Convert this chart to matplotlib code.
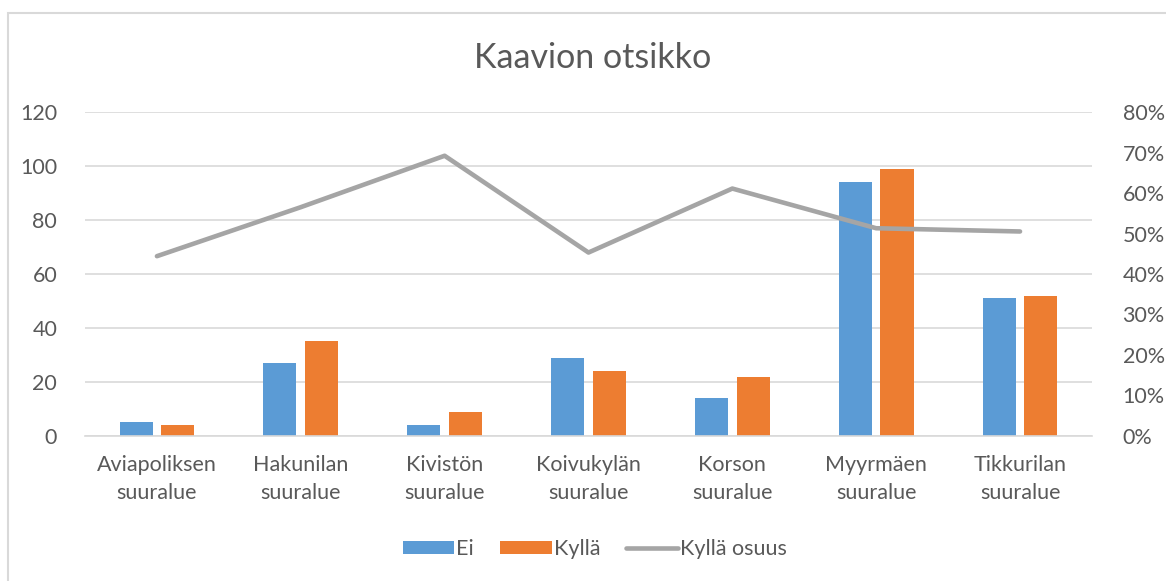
import matplotlib.pyplot as plt
from matplotlib.patches import Rectangle
from matplotlib.ticker import PercentFormatter
import numpy as np

plt.rcParams['font.family'] = ['Lato', 'DejaVu Sans']

categories = ['Aviapoliksen\nsuuralue', 'Hakunilan\nsuuralue', 'Kivistön\nsuuralue',
              'Koivukylän\nsuuralue', 'Korson\nsuuralue', 'Myyrmäen\nsuuralue',
              'Tikkurilan\nsuuralue']
ei = [5, 27, 4, 29, 14, 94, 51]
kylla = [4, 35, 9, 24, 22, 99, 52]
kylla_osuus = [0.444, 0.565, 0.692, 0.453, 0.611, 0.513, 0.505]

text_col = '#595959'
grid_col = '#D9D9D9'

fig = plt.figure(figsize=(11.66, 5.81), dpi=100)
ax = fig.add_axes([0.0729, 0.2496, 0.8636, 0.5576])

x = np.arange(len(categories))
w = 0.23
ax.bar(x - 0.145, ei, w, color='#5B9BD5', label='Ei', zorder=2)
ax.bar(x + 0.145, kylla, w, color='#ED7D31', label='Kyllä', zorder=2)

ax.set_xlim(-0.5, len(categories) - 0.5)
ax.set_ylim(0, 120)
ax.set_yticks(range(0, 121, 20))
ax.yaxis.grid(True, color=grid_col, linewidth=1.2, zorder=0)
ax.set_xticks(x)
ax.set_xticklabels(categories, fontsize=15.5, color=text_col, linespacing=1.5)
ax.tick_params(axis='both', length=0, labelsize=15.5, labelcolor=text_col)
ax.tick_params(axis='x', pad=14)
ax.tick_params(axis='y', pad=20)
for s in ['top', 'right', 'left']:
    ax.spines[s].set_visible(False)
ax.spines['bottom'].set_color(grid_col)
ax.spines['bottom'].set_linewidth(1.2)

ax2 = ax.twinx()
ax2.plot(x, kylla_osuus, color='#A5A5A5', linewidth=3.3, solid_capstyle='round',
         solid_joinstyle='round', label='Kyllä osuus', zorder=3)
ax2.set_ylim(0, 0.8)
ax2.set_yticks(np.arange(0, 0.81, 0.1))
ax2.yaxis.set_major_formatter(PercentFormatter(1.0, decimals=0))
ax2.tick_params(axis='y', length=0, labelsize=15.5, labelcolor=text_col, pad=22)
for s in ax2.spines.values():
    s.set_visible(False)

fig.text(0.508, 0.90, 'Kaavion otsikko', ha='center', va='center',
         fontsize=24.5, color=text_col)

h1, l1 = ax.get_legend_handles_labels()
h2, l2 = ax2.get_legend_handles_labels()
fig.legend(h1 + h2, l1 + l2, loc='center', bbox_to_anchor=(0.51, 0.055), ncol=3,
           frameon=False, fontsize=15.5, labelcolor=text_col, handlelength=2.4,
           handleheight=0.6, handletextpad=0.1, columnspacing=1.2)

fig.patches.append(Rectangle((8 / 1166, -0.01), 1.0, 1 - 13 / 581 + 0.01,
                             transform=fig.transFigure, fill=False,
                             edgecolor=grid_col, linewidth=1.5))

fig.savefig('out.png', dpi=100)
